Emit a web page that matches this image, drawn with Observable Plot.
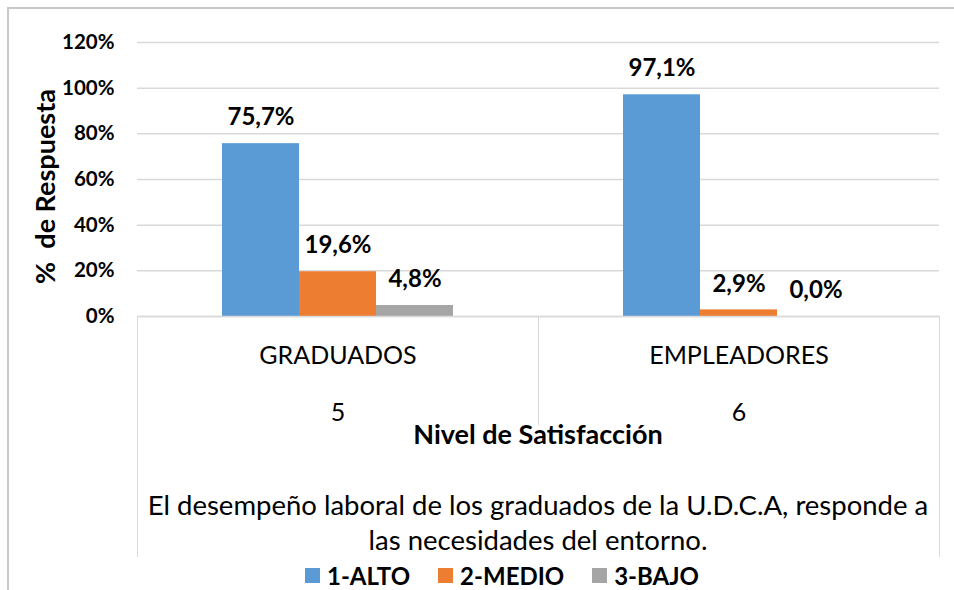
<!DOCTYPE html>
<html><head><meta charset="utf-8">
<script src="https://cdn.jsdelivr.net/npm/d3@7"></script>
<script src="https://cdn.jsdelivr.net/npm/@observablehq/plot@0.6"></script>
<style>
body{margin:0;background:#fff;font-family:Lato,"Open Sans",sans-serif;color:#000;}
#wrap{position:relative;width:954px;height:590px;overflow:hidden;background:#fff;}
#border{position:absolute;left:7px;top:7px;width:1000px;height:1000px;border-left:2px solid #c8c8c8;border-top:2px solid #c8c8c8;}
.vline{position:absolute;width:0;border-left:1.5px solid #d9d9d9;}
.txt{position:absolute;left:137px;width:802px;text-align:center;white-space:nowrap;}
#legend{position:absolute;left:0;width:1004px;top:561px;display:flex;justify-content:center;gap:28px;font-weight:bold;font-size:24px;}
#legend .it{display:flex;align-items:center;gap:7px;}
#legend .sw{width:15px;height:15px;display:inline-block;}
svg{position:absolute;left:0;top:0;}
</style></head>
<body>
<div id="wrap">
  <div id="border"></div>
</div>
<script>
const groups = ["GRADUADOS", "EMPLEADORES"];
const groupCodes = ["5", "6"];
const series = ["1-ALTO", "2-MEDIO", "3-BAJO"];
const graduados = [0.757, 0.196, 0.048];
const empleadores = [0.971, 0.029, 0.0];
const colors = ["#5B9BD5", "#ED7D31", "#A5A5A5"];
const yTicks = [0, 0.2, 0.4, 0.6, 0.8, 1.0, 1.2];
const yTitle = "%  de Respuesta";
const xTitle = "Nivel de Satisfacción";
const question = ["El desempeño laboral de los graduados de la U.D.C.A, responde a", "las necesidades del entorno."];

const valuesByGroup = [graduados, empleadores];
const data = groups.flatMap((g, i) => series.map((s, j) => ({group: g, serie: s, value: valuesByGroup[i][j]})));
const groupRows = groups.map((g, i) => ({group: g, code: groupCodes[i]}));
const fmt = v => (v * 100).toFixed(1).replace(".", ",") + "%";

const chart = Plot.plot({
  width: 954, height: 590,
  marginLeft: 137, marginRight: 15, marginTop: 42, marginBottom: 274,
  style: {fontFamily: "Lato, 'Open Sans', sans-serif", background: "transparent", color: "#000"},
  fx: {domain: groups, padding: 0, axis: null, label: null},
  x: {domain: series, paddingInner: 0, paddingOuter: 1.1, axis: null},
  y: {domain: [0, 1.2], axis: null},
  color: {domain: series, range: colors},
  marks: [
    Plot.gridY(yTicks, {stroke: "#d9d9d9", strokeOpacity: 1, strokeWidth: 1.5}),
    Plot.axisY(yTicks, {tickSize: 0, tickPadding: 23, tickFormat: d => Math.round(d * 100) + "%", fontSize: 20.5, fontWeight: "bold", label: null, fill: "#000"}),
    Plot.barY(data, {fx: "group", x: "serie", y: "value", fill: "serie"}),
    Plot.ruleY([0], {stroke: "#d9d9d9", strokeWidth: 1.5}),
    Plot.text(data, {fx: "group", x: "serie", y: "value", text: d => fmt(d.value), dy: -26, lineAnchor: "middle", fontSize: 24, fontWeight: "bold", fill: "#000"}),
    Plot.text(groupRows, {fx: "group", text: "group", frameAnchor: "bottom", dy: 39, lineAnchor: "middle", fontSize: 25, fill: "#000"}),
    Plot.text(groupRows, {fx: "group", text: "code", frameAnchor: "bottom", dy: 96, lineAnchor: "middle", fontSize: 25, fill: "#000"}),
    Plot.text([yTitle], {fx: () => groups[0], text: d => d, frameAnchor: "left", textAnchor: "middle", rotate: -90, dx: -91, dy: 7, lineAnchor: "middle", fontSize: 27, fontWeight: "bold", fill: "#000"})
  ]
});

const wrap = document.getElementById("wrap");
wrap.appendChild(chart);

function vline(x, y1, y2) {
  const d = document.createElement("div");
  d.className = "vline";
  d.style.left = x + "px"; d.style.top = y1 + "px"; d.style.height = (y2 - y1) + "px";
  wrap.appendChild(d);
}
vline(137, 316, 557);
vline(938.5, 316, 557);
vline(538, 316, 425);

function txt(s, top, size, bold) {
  const d = document.createElement("div");
  d.className = "txt";
  d.textContent = s;
  d.style.top = top + "px";
  d.style.fontSize = size + "px";
  d.style.lineHeight = size + "px";
  if (bold) d.style.fontWeight = "bold";
  wrap.appendChild(d);
}
txt(xTitle, 420, 27, true);
txt(question[0], 491, 27.5, false);
txt(question[1], 526, 27.5, false);

const leg = document.createElement("div");
leg.id = "legend";
series.forEach((s, i) => {
  const it = document.createElement("div");
  it.className = "it";
  const sw = document.createElement("span");
  sw.className = "sw"; sw.style.background = colors[i];
  const t = document.createElement("span");
  t.textContent = s;
  it.appendChild(sw); it.appendChild(t);
  leg.appendChild(it);
});
wrap.appendChild(leg);
</script>
</body></html>
